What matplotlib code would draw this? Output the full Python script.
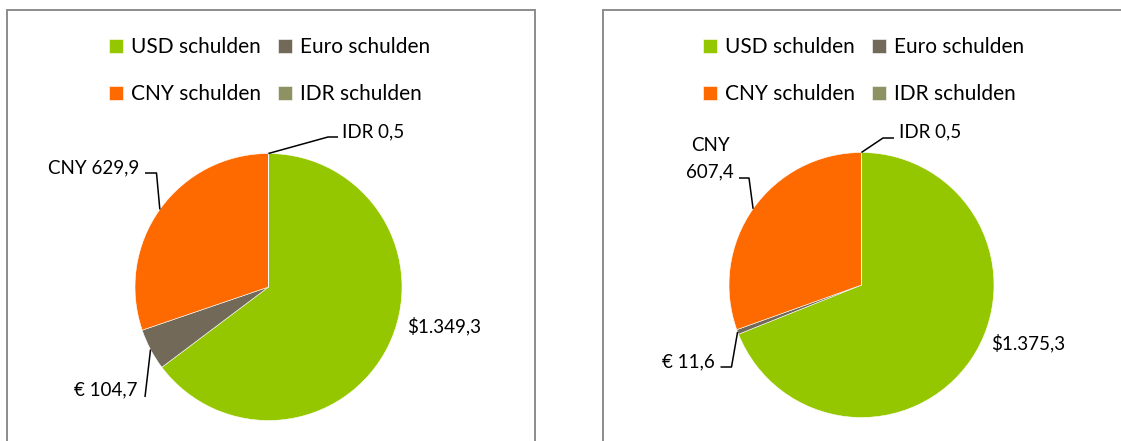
import numpy as np
import matplotlib
matplotlib.use("Agg")
import matplotlib.pyplot as plt
import matplotlib.patches as patches

# data (billions) -- left chart and right chart
categories = ["USD schulden", "Euro schulden", "CNY schulden", "IDR schulden"]
left_values = [1349.3, 104.7, 629.9, 0.5]
right_values = [1375.3, 11.6, 607.4, 0.5]
left_labels = ["$1.349,3", "€ 104,7", "CNY 629,9", "IDR 0,5"]
right_labels = ["$1.375,3", "€ 11,6", "CNY\n607,4", "IDR 0,5"]
colors = ["#95C700", "#736959", "#FF6A00", "#8E9263"]

W, H = 1121, 441
plt.rcParams['font.family'] = ['Lato', 'DejaVu Sans']

fig = plt.figure(figsize=(W / 100, H / 100), dpi=100)
ax = fig.add_axes([0, 0, 1, 1])


def py(y):
    # pixel row (from top) -> data y
    return H - y


def edge_point(cx, cy, r, values, i):
    # point on the rim at the middle of wedge i (clockwise from top)
    total = sum(values)
    start = 90 - 360 * sum(values[:i]) / total
    mid = start - 180 * values[i] / total
    a = np.deg2rad(mid)
    return cx + r * np.cos(a), cy - r * np.sin(a)


def draw_leader(pts):
    xs = [p[0] for p in pts]
    ys = [py(p[1]) for p in pts]
    ax.plot(xs, ys, color="black", lw=1.1, solid_capstyle="butt")


# panel frames
ax.add_patch(patches.Rectangle((7, py(470)), 528, 460, fill=False,
                               edgecolor="#8C8C8C", lw=1.4))
ax.add_patch(patches.Rectangle((603, py(470)), 560, 460, fill=False,
                               edgecolor="#8C8C8C", lw=1.4))

panels = [
    dict(values=left_values, labels=left_labels, cx=268.5, cy=287, r=133.5),
    dict(values=right_values, labels=right_labels, cx=861.5, cy=285, r=132.5),
]

for p in panels:
    wedges, _ = ax.pie(p["values"], colors=colors, startangle=90,
                       counterclock=False, center=(p["cx"], py(p["cy"])),
                       radius=p["r"], frame=True,
                       wedgeprops=dict(edgecolor="white", linewidth=0.4))
    p["wedges"] = wedges

fs = 13.5

# left chart labels
L = panels[0]
ax.text(407, py(326), L["labels"][0], ha="left", va="center", fontsize=fs)
e = edge_point(L["cx"], L["cy"], L["r"], L["values"], 1)
draw_leader([e, (145, 397)])
ax.text(138, py(390), L["labels"][1], ha="right", va="center", fontsize=fs)
e = edge_point(L["cx"], L["cy"], L["r"], L["values"], 2)
draw_leader([e, (156.5, 173), (145, 173)])
ax.text(139, py(168), L["labels"][2], ha="right", va="center", fontsize=fs)
e = edge_point(L["cx"], L["cy"], L["r"], L["values"], 3)
draw_leader([e, (328, 137), (338, 137)])
ax.text(342, py(132), L["labels"][3], ha="left", va="center", fontsize=fs)

# right chart labels
R = panels[1]
ax.text(991, py(343), R["labels"][0], ha="left", va="center", fontsize=fs)
e = edge_point(R["cx"], R["cy"], R["r"], R["values"], 1)
draw_leader([e, (731.5, 367), (720.5, 367)])
ax.text(715, py(362), R["labels"][1], ha="right", va="center", fontsize=fs)
e = edge_point(R["cx"], R["cy"], R["r"], R["values"], 2)
draw_leader([e, (749, 178), (739, 178)])
ax.text(710, py(159), R["labels"][2], ha="center", va="center", fontsize=fs,
        linespacing=1.65)
e = edge_point(R["cx"], R["cy"], R["r"], R["values"], 3)
draw_leader([e, (883, 138), (894, 138)])
ax.text(899, py(132), R["labels"][3], ha="left", va="center", fontsize=fs)

# legends (row-major order: USD, Euro / CNY, IDR)
order = [0, 2, 1, 3]
for p, x0 in [(L, 109), (R, 703)]:
    handles = [p["wedges"][i] for i in order]
    labs = [categories[i] for i in order]
    fig.legend(handles, labs, ncol=2, frameon=False, fontsize=15,
               loc="upper left", bbox_to_anchor=(x0 / W, 1 - 37 / H),
               bbox_transform=fig.transFigure, borderpad=0, borderaxespad=0,
               handlelength=0.66, handleheight=0.66, handletextpad=0.38,
               columnspacing=0.85, labelspacing=1.3)

ax.set_xlim(0, W)
ax.set_ylim(0, H)
ax.set_aspect("equal")
ax.axis("off")

fig.savefig("out.png", dpi=100)
